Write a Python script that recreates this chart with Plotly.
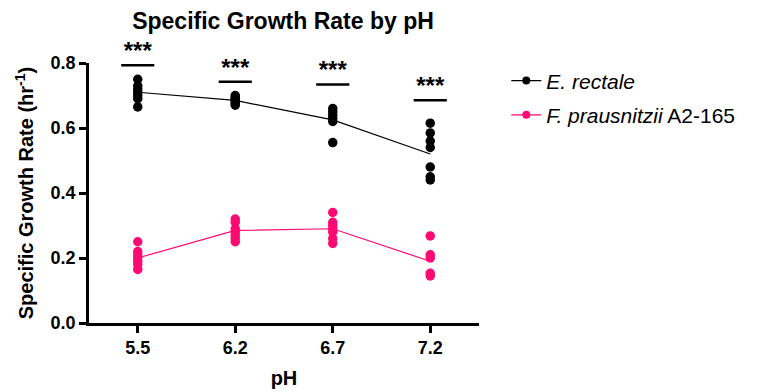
import plotly.graph_objects as go

categories = ["5.5", "6.2", "6.7", "7.2"]

er_points = [
    [0.75, 0.73, 0.72, 0.71, 0.70, 0.69, 0.665],
    [0.70, 0.695, 0.69, 0.685, 0.68, 0.675, 0.67],
    [0.66, 0.65, 0.64, 0.63, 0.62, 0.555],
    [0.615, 0.585, 0.56, 0.54, 0.48, 0.45, 0.44],
]
fp_points = [
    [0.25, 0.22, 0.21, 0.20, 0.19, 0.18, 0.165],
    [0.32, 0.31, 0.29, 0.28, 0.27, 0.26, 0.25],
    [0.34, 0.31, 0.30, 0.29, 0.28, 0.26, 0.245],
    [0.268, 0.21, 0.20, 0.153, 0.145],
]
er_mean = [0.71, 0.685, 0.625, 0.52]
fp_mean = [0.20, 0.285, 0.29, 0.19]
sig_labels = ["***", "***", "***", "***"]
sig_y = [0.793, 0.742, 0.734, 0.685]

BLACK = "#000000"
PINK = "#FF0A73"

fig = go.Figure()

def add_series(points, mean, color, name, group):
    xs, ys = [], []
    for cat, vals in zip(categories, points):
        xs += [cat] * len(vals)
        ys += vals
    fig.add_trace(go.Scatter(x=categories, y=mean, mode="lines",
                             line=dict(color=color, width=1.2), showlegend=False, hoverinfo="skip"))
    fig.add_trace(go.Scatter(x=xs, y=ys, mode="markers", cliponaxis=False,
                             marker=dict(color=color, size=9.5), showlegend=False))
    fig.add_trace(go.Scatter(x=[None], y=[None], mode="lines+markers", name=name, legendgroup=group,
                             line=dict(color=color, width=1.2), marker=dict(color=color, size=8)))

add_series(er_points, er_mean, BLACK, "<i>E. rectale</i>", "er")
add_series(fp_points, fp_mean, PINK, "<i>F. prausnitzii</i> A2-165", "fp")

# significance markers
fig.add_trace(go.Scatter(x=categories, y=sig_y, mode="text", text=sig_labels,
                         textposition="top center", cliponaxis=False, showlegend=False, hoverinfo="skip",
                         textfont=dict(size=24, color="black", family="Liberation Sans", weight="bold")))
for i, yv in enumerate(sig_y):
    fig.add_shape(type="line", xref="x", yref="y", x0=i - 0.17, x1=i + 0.17, y0=yv, y1=yv,
                  line=dict(color="black", width=2.5))

tickfont = dict(size=18, color="black", family="Liberation Sans", weight="bold")
titlefont = dict(size=20, color="black", family="Liberation Sans", weight="bold")

fig.update_layout(
    width=783, height=392,
    margin=dict(l=89, r=304, t=63, b=69, autoexpand=False),
    plot_bgcolor="white", paper_bgcolor="white",
    font=dict(family="Liberation Sans, Arial", color="black"),
    title=dict(text="Specific Growth Rate by pH", x=283 / 783, xanchor="center", xref="container",
               yref="container", y=1 - 21 / 392, yanchor="middle",
               font=dict(size=23, color="black", family="Liberation Sans", weight="bold")),
    legend=dict(x=1.07, y=1.01, xanchor="left", yanchor="top",
                font=dict(size=21, color="black", family="Liberation Sans"),
                bgcolor="rgba(0,0,0,0)", tracegroupgap=4, itemwidth=30),
    xaxis=dict(type="category", categoryorder="array", categoryarray=categories,
               range=[-0.5, 3.5], showline=True, linecolor="black", linewidth=2.5,
               ticks="outside", ticklen=7, tickwidth=2.5, tickcolor="black", automargin=False,
               tickfont=tickfont, showgrid=False, zeroline=False,
               title=dict(text="pH", font=titlefont, standoff=14)),
    yaxis=dict(range=[0, 0.8], tickvals=[0, 0.2, 0.4, 0.6, 0.8], tickformat=".1f",
               showline=True, linecolor="black", linewidth=2.5, automargin=False,
               ticks="outside", ticklen=7, tickwidth=2.5, tickcolor="black",
               tickfont=tickfont, showgrid=False, zeroline=False,
               title=dict(text="Specific Growth Rate (hr<sup>-1</sup>)", font=titlefont, standoff=12)),
)

fig.write_html("out.html", config={"displayModeBar": False},
               post_script="document.body.style.margin='0';document.body.style.overflow='hidden';")
